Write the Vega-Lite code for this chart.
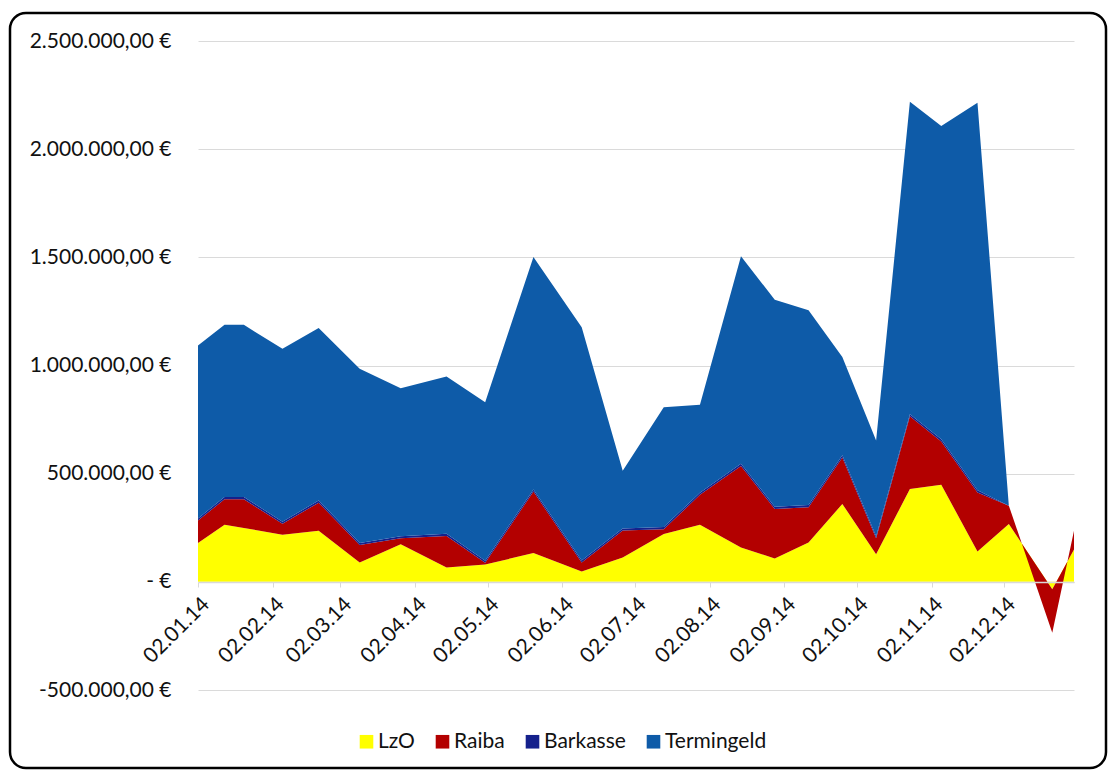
{
  "$schema": "https://vega.github.io/schema/vega-lite/v6.json",
  "autosize": {"type": "none"},
  "padding": {"left": 10, "top": 13, "right": 4, "bottom": 3},
  "width": 1096,
  "height": 755,
  "background": "white",
  "config": {
    "locale": {"number": {"decimal": ",", "thousands": ".", "grouping": [3], "currency": ["", " €"], "minus": "-"}},
    "view": {"stroke": "#000000", "strokeWidth": 2.5, "cornerRadius": 16, "fill": "white"},
    "font": "Lato"
  },
  "datasets": {
    "konten": [
      {"Datum": "2014-01-02", "Konto": "LzO", "Betrag": 179000},
      {"Datum": "2014-01-02", "Konto": "Raiba", "Betrag": 104000},
      {"Datum": "2014-01-02", "Konto": "Barkasse", "Betrag": 10000},
      {"Datum": "2014-01-02", "Konto": "Termingeld", "Betrag": 800000},
      {"Datum": "2014-01-13", "Konto": "LzO", "Betrag": 264000},
      {"Datum": "2014-01-13", "Konto": "Raiba", "Betrag": 118000},
      {"Datum": "2014-01-13", "Konto": "Barkasse", "Betrag": 10000},
      {"Datum": "2014-01-13", "Konto": "Termingeld", "Betrag": 796000},
      {"Datum": "2014-01-21", "Konto": "LzO", "Betrag": 249000},
      {"Datum": "2014-01-21", "Konto": "Raiba", "Betrag": 133000},
      {"Datum": "2014-01-21", "Konto": "Barkasse", "Betrag": 10000},
      {"Datum": "2014-01-21", "Konto": "Termingeld", "Betrag": 796000},
      {"Datum": "2014-02-06", "Konto": "LzO", "Betrag": 218000},
      {"Datum": "2014-02-06", "Konto": "Raiba", "Betrag": 50000},
      {"Datum": "2014-02-06", "Konto": "Barkasse", "Betrag": 10000},
      {"Datum": "2014-02-06", "Konto": "Termingeld", "Betrag": 799000},
      {"Datum": "2014-02-21", "Konto": "LzO", "Betrag": 236000},
      {"Datum": "2014-02-21", "Konto": "Raiba", "Betrag": 130000},
      {"Datum": "2014-02-21", "Konto": "Barkasse", "Betrag": 10000},
      {"Datum": "2014-02-21", "Konto": "Termingeld", "Betrag": 797000},
      {"Datum": "2014-03-10", "Konto": "LzO", "Betrag": 89000},
      {"Datum": "2014-03-10", "Konto": "Raiba", "Betrag": 81000},
      {"Datum": "2014-03-10", "Konto": "Barkasse", "Betrag": 10000},
      {"Datum": "2014-03-10", "Konto": "Termingeld", "Betrag": 805000},
      {"Datum": "2014-03-27", "Konto": "LzO", "Betrag": 174000},
      {"Datum": "2014-03-27", "Konto": "Raiba", "Betrag": 27000},
      {"Datum": "2014-03-27", "Konto": "Barkasse", "Betrag": 10000},
      {"Datum": "2014-03-27", "Konto": "Termingeld", "Betrag": 684000},
      {"Datum": "2014-04-15", "Konto": "LzO", "Betrag": 66000},
      {"Datum": "2014-04-15", "Konto": "Raiba", "Betrag": 146000},
      {"Datum": "2014-04-15", "Konto": "Barkasse", "Betrag": 10000},
      {"Datum": "2014-04-15", "Konto": "Termingeld", "Betrag": 727000},
      {"Datum": "2014-05-01", "Konto": "LzO", "Betrag": 80000},
      {"Datum": "2014-05-01", "Konto": "Raiba", "Betrag": 8000},
      {"Datum": "2014-05-01", "Konto": "Barkasse", "Betrag": 10000},
      {"Datum": "2014-05-01", "Konto": "Termingeld", "Betrag": 732000},
      {"Datum": "2014-05-21", "Konto": "LzO", "Betrag": 133000},
      {"Datum": "2014-05-21", "Konto": "Raiba", "Betrag": 284000},
      {"Datum": "2014-05-21", "Konto": "Barkasse", "Betrag": 10000},
      {"Datum": "2014-05-21", "Konto": "Termingeld", "Betrag": 1075000},
      {"Datum": "2014-06-10", "Konto": "LzO", "Betrag": 48000},
      {"Datum": "2014-06-10", "Konto": "Raiba", "Betrag": 41000},
      {"Datum": "2014-06-10", "Konto": "Barkasse", "Betrag": 10000},
      {"Datum": "2014-06-10", "Konto": "Termingeld", "Betrag": 1078000},
      {"Datum": "2014-06-27", "Konto": "LzO", "Betrag": 113000},
      {"Datum": "2014-06-27", "Konto": "Raiba", "Betrag": 124000},
      {"Datum": "2014-06-27", "Konto": "Barkasse", "Betrag": 10000},
      {"Datum": "2014-06-27", "Konto": "Termingeld", "Betrag": 267000},
      {"Datum": "2014-07-14", "Konto": "LzO", "Betrag": 221000},
      {"Datum": "2014-07-14", "Konto": "Raiba", "Betrag": 22000},
      {"Datum": "2014-07-14", "Konto": "Barkasse", "Betrag": 10000},
      {"Datum": "2014-07-14", "Konto": "Termingeld", "Betrag": 554000},
      {"Datum": "2014-07-29", "Konto": "LzO", "Betrag": 264000},
      {"Datum": "2014-07-29", "Konto": "Raiba", "Betrag": 138000},
      {"Datum": "2014-07-29", "Konto": "Barkasse", "Betrag": 10000},
      {"Datum": "2014-07-29", "Konto": "Termingeld", "Betrag": 407000},
      {"Datum": "2014-08-15", "Konto": "LzO", "Betrag": 159000},
      {"Datum": "2014-08-15", "Konto": "Raiba", "Betrag": 377000},
      {"Datum": "2014-08-15", "Konto": "Barkasse", "Betrag": 10000},
      {"Datum": "2014-08-15", "Konto": "Termingeld", "Betrag": 959000},
      {"Datum": "2014-08-29", "Konto": "LzO", "Betrag": 108000},
      {"Datum": "2014-08-29", "Konto": "Raiba", "Betrag": 229000},
      {"Datum": "2014-08-29", "Konto": "Barkasse", "Betrag": 10000},
      {"Datum": "2014-08-29", "Konto": "Termingeld", "Betrag": 957000},
      {"Datum": "2014-09-12", "Konto": "LzO", "Betrag": 182000},
      {"Datum": "2014-09-12", "Konto": "Raiba", "Betrag": 163000},
      {"Datum": "2014-09-12", "Konto": "Barkasse", "Betrag": 10000},
      {"Datum": "2014-09-12", "Konto": "Termingeld", "Betrag": 900000},
      {"Datum": "2014-09-26", "Konto": "LzO", "Betrag": 360000},
      {"Datum": "2014-09-26", "Konto": "Raiba", "Betrag": 215000},
      {"Datum": "2014-09-26", "Konto": "Barkasse", "Betrag": 10000},
      {"Datum": "2014-09-26", "Konto": "Termingeld", "Betrag": 454000},
      {"Datum": "2014-10-10", "Konto": "LzO", "Betrag": 128000},
      {"Datum": "2014-10-10", "Konto": "Raiba", "Betrag": 73000},
      {"Datum": "2014-10-10", "Konto": "Barkasse", "Betrag": 10000},
      {"Datum": "2014-10-10", "Konto": "Termingeld", "Betrag": 442000},
      {"Datum": "2014-10-24", "Konto": "LzO", "Betrag": 429000},
      {"Datum": "2014-10-24", "Konto": "Raiba", "Betrag": 336000},
      {"Datum": "2014-10-24", "Konto": "Barkasse", "Betrag": 10000},
      {"Datum": "2014-10-24", "Konto": "Termingeld", "Betrag": 1444000},
      {"Datum": "2014-11-06", "Konto": "LzO", "Betrag": 449000},
      {"Datum": "2014-11-06", "Konto": "Raiba", "Betrag": 200000},
      {"Datum": "2014-11-06", "Konto": "Barkasse", "Betrag": 10000},
      {"Datum": "2014-11-06", "Konto": "Termingeld", "Betrag": 1448000},
      {"Datum": "2014-11-21", "Konto": "LzO", "Betrag": 140000},
      {"Datum": "2014-11-21", "Konto": "Raiba", "Betrag": 273000},
      {"Datum": "2014-11-21", "Konto": "Barkasse", "Betrag": 10000},
      {"Datum": "2014-11-21", "Konto": "Termingeld", "Betrag": 1792000},
      {"Datum": "2014-12-04", "Konto": "LzO", "Betrag": 267000},
      {"Datum": "2014-12-04", "Konto": "Raiba", "Betrag": 85000},
      {"Datum": "2014-12-04", "Konto": "Barkasse", "Betrag": 0},
      {"Datum": "2014-12-04", "Konto": "Termingeld", "Betrag": 0},
      {"Datum": "2014-12-22", "Konto": "LzO", "Betrag": -34000},
      {"Datum": "2014-12-22", "Konto": "Raiba", "Betrag": -201000},
      {"Datum": "2014-12-22", "Konto": "Barkasse", "Betrag": 0},
      {"Datum": "2014-12-22", "Konto": "Termingeld", "Betrag": 0},
      {"Datum": "2014-12-31", "Konto": "LzO", "Betrag": 150000},
      {"Datum": "2014-12-31", "Konto": "Raiba", "Betrag": 86000},
      {"Datum": "2014-12-31", "Konto": "Barkasse", "Betrag": 0},
      {"Datum": "2014-12-31", "Konto": "Termingeld", "Betrag": 0}
    ]
  },
  "data": {"name": "konten"},
  "transform": [
    {"calculate": "indexof(['LzO', 'Raiba', 'Barkasse', 'Termingeld'], datum.Konto)", "as": "Reihenfolge"}
  ],
  "mark": {"type": "area", "interpolate": "linear"},
  "encoding": {
    "x": {
      "field": "Datum",
      "type": "temporal",
      "scale": {
        "type": "utc",
        "domain": [
          {"year": 2014, "month": 1, "date": 2, "utc": true},
          {"year": 2014, "month": 12, "date": 31, "utc": true}
        ],
        "range": [188, 1064],
        "nice": false
      },
      "axis": {
        "title": null,
        "values": [
          {"year": 2014, "month": 1, "date": 2, "utc": true},
          {"year": 2014, "month": 2, "date": 2, "utc": true},
          {"year": 2014, "month": 3, "date": 2, "utc": true},
          {"year": 2014, "month": 4, "date": 2, "utc": true},
          {"year": 2014, "month": 5, "date": 2, "utc": true},
          {"year": 2014, "month": 6, "date": 2, "utc": true},
          {"year": 2014, "month": 7, "date": 2, "utc": true},
          {"year": 2014, "month": 8, "date": 2, "utc": true},
          {"year": 2014, "month": 9, "date": 2, "utc": true},
          {"year": 2014, "month": 10, "date": 2, "utc": true},
          {"year": 2014, "month": 11, "date": 2, "utc": true},
          {"year": 2014, "month": 12, "date": 2, "utc": true}
        ],
        "format": "%d.%m.%y",
        "offset": -186,
        "zindex": 1,
        "grid": false,
        "domain": true,
        "domainColor": "#D9D9D9",
        "domainWidth": 1.5,
        "ticks": true,
        "tickColor": "#D9D9D9",
        "tickSize": 5,
        "labelAngle": -45,
        "labelAlign": "right",
        "labelBaseline": "top",
        "labelPadding": 6,
        "labelFont": "Lato",
        "labelFontSize": 21,
        "labelColor": "#111111",
        "labelOverlap": false,
        "labelBound": false,
        "labelFlush": false
      }
    },
    "y": {
      "field": "Betrag",
      "type": "quantitative",
      "stack": "zero",
      "scale": {"domain": [-500000, 2500000], "range": [677, 28], "nice": false, "zero": false},
      "axis": {
        "title": null,
        "values": [-500000, 0, 500000, 1000000, 1500000, 2000000, 2500000],
        "format": ",.2f",
        "labelExpr": "datum.value == 0 ? '-    €' : datum.label + ' €'",
        "offset": -188,
        "zindex": 0,
        "grid": true,
        "gridColor": "#DADADA",
        "gridWidth": 1,
        "domain": false,
        "ticks": false,
        "labelPadding": 27,
        "labelFont": "Lato",
        "labelFontSize": 21,
        "labelColor": "#111111",
        "labelBound": false,
        "labelFlush": false,
        "labelOverlap": false
      }
    },
    "color": {
      "field": "Konto",
      "type": "nominal",
      "scale": {
        "domain": ["LzO", "Raiba", "Barkasse", "Termingeld"],
        "range": ["#FFFF00", "#B30000", "#15218C", "#0E5BA8"]
      },
      "legend": {
        "title": null,
        "orient": "none",
        "legendX": 346,
        "legendY": 718,
        "direction": "horizontal",
        "symbolType": "square",
        "symbolSize": 185,
        "symbolStrokeWidth": 0,
        "labelFont": "Lato",
        "labelFontSize": 21,
        "labelColor": "#111111",
        "labelOffset": 1,
        "columnPadding": 17
      }
    },
    "order": {"field": "Reihenfolge", "type": "quantitative"}
  }
}
